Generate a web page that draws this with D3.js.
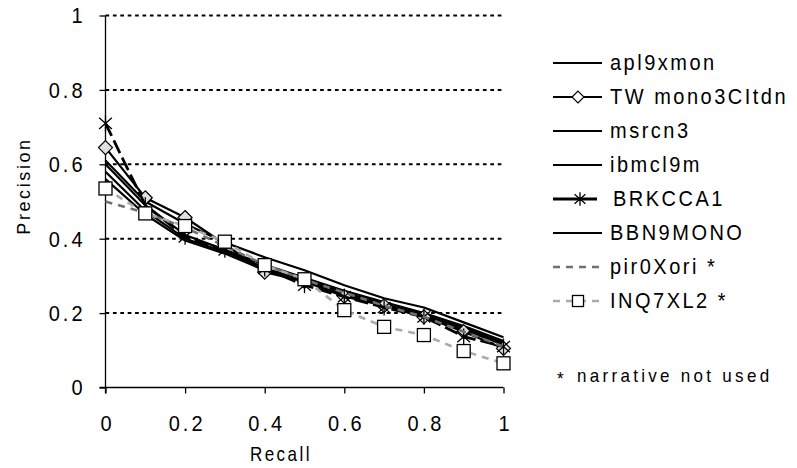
<!DOCTYPE html>
<html>
<head>
<meta charset="utf-8">
<script src="https://cdn.jsdelivr.net/npm/d3@7"></script>
<style>
  html, body { margin: 0; padding: 0; background: #fff; }
  svg { display: block; font-family: "Liberation Sans", Arial, sans-serif; }
</style>
</head>
<body>
<svg id="chart" width="797" height="468"></svg>
<script>
// Interpolated precision at 11 standard recall levels
const recall = [0, 0.1, 0.2, 0.3, 0.4, 0.5, 0.6, 0.7, 0.8, 0.9, 1.0];

const apl9xmon     = [0.61, 0.50, 0.44, 0.39, 0.35, 0.315, 0.275, 0.24, 0.215, 0.175, 0.135];
const TWmono3CItdn = [0.645, 0.51, 0.457, 0.385, 0.31, 0.285, 0.245, 0.22, 0.19, 0.15, 0.105];
const msrcn3       = [0.60, 0.49, 0.41, 0.37, 0.33, 0.295, 0.26, 0.23, 0.20, 0.165, 0.125];
const ibmcl9m      = [0.58, 0.475, 0.40, 0.365, 0.32, 0.29, 0.255, 0.225, 0.195, 0.16, 0.12];
const BRKCCA1      = [0.71, 0.49, 0.405, 0.37, 0.32, 0.275, 0.244, 0.215, 0.19, 0.137, 0.11];
const BBN9MONO     = [0.56, 0.465, 0.395, 0.36, 0.315, 0.285, 0.25, 0.22, 0.19, 0.155, 0.115];
const pir0Xori     = [0.50, 0.47, 0.43, 0.38, 0.33, 0.29, 0.255, 0.22, 0.19, 0.15, 0.11];
const INQ7XL2      = [0.535, 0.468, 0.434, 0.392, 0.329, 0.291, 0.208, 0.163, 0.141, 0.098, 0.065];

const seriesNames = ["apl9xmon", "TW mono3CItdn", "msrcn3", "ibmcl9m", "BRKCCA1", "BBN9MONO", "pir0Xori *", "INQ7XL2 *"];
const xTicks = [0, 0.2, 0.4, 0.6, 0.8, 1];
const yTicks = [0, 0.2, 0.4, 0.6, 0.8, 1];
const gridValues = [0.2, 0.4, 0.6, 0.8, 1];
const footnote = ["*", "narrative not used"];

// visual style per series
const styles = [
  { values: apl9xmon,     color: "#000", width: 2.2, dash: null,   marker: null },
  { values: TWmono3CItdn, color: "#000", width: 2.2, dash: null,   marker: "diamond" },
  { values: msrcn3,       color: "#000", width: 2.2, dash: null,   marker: null },
  { values: ibmcl9m,      color: "#000", width: 2.2, dash: null,   marker: null },
  { values: BRKCCA1,      color: "#000", width: 2.8, dash: "14,5", marker: "asterisk" },
  { values: BBN9MONO,     color: "#000", width: 2.2, dash: null,   marker: null },
  { values: pir0Xori,     color: "#707070", width: 2.6, dash: "7,6", marker: null },
  { values: INQ7XL2,      color: "#ababab", width: 2.6, dash: "7,6", marker: "square" }
];
const series = seriesNames.map((name, i) => Object.assign({ name }, styles[i]));

const svg = d3.select("#chart");
const x = d3.scaleLinear().domain([0, 1]).range([105.5, 503.5]);
const y = d3.scaleLinear().domain([0, 1]).range([387.5, 15.5]);
const fmt = d3.format("~g");
const TALL = 1.14; // glyphs are drawn slightly taller than wide

// text placed at (tx, ty) and stretched vertically
function tallText(parent, tx, ty, str, size, spacing, k) {
  return parent.append("text")
    .attr("transform", `translate(${tx},${ty}) scale(1,${k || TALL})`)
    .attr("dominant-baseline", "central")
    .style("font-size", size + "px").style("letter-spacing", spacing + "px")
    .text(str);
}

// dotted horizontal gridlines
svg.append("g").selectAll("line").data(gridValues).join("line")
  .attr("x1", x(0)).attr("x2", x(1))
  .attr("y1", d => y(d)).attr("y2", d => y(d))
  .attr("stroke", "#000").attr("stroke-width", 2)
  .attr("stroke-dasharray", "3.7,3.7");

// axes
const xAxis = svg.append("g").attr("transform", `translate(0,${y(0)})`)
  .call(d3.axisBottom(x).tickValues(xTicks).tickSize(6).tickPadding(0).tickFormat(fmt));
const yAxis = svg.append("g").attr("transform", `translate(${x(0)},0)`)
  .call(d3.axisLeft(y).tickValues(yTicks).tickSize(6).tickPadding(0).tickFormat(fmt));
[xAxis, yAxis].forEach(g => {
  g.select(".domain").attr("stroke", "#000").attr("stroke-width", 1.3);
  g.selectAll(".tick line").attr("stroke", "#000").attr("stroke-width", 1.3);
  g.selectAll(".tick text").attr("fill", "#000")
    .style("font-size", "20px").style("letter-spacing", "3px")
    .style("font-family", "'Liberation Sans', Arial, sans-serif")
    .attr("dy", null).attr("dominant-baseline", "central");
});
xAxis.selectAll(".tick text").attr("x", 0).attr("y", 0)
  .attr("transform", `translate(1.5,36) scale(1,${TALL})`);
yAxis.selectAll(".tick text").attr("x", 0).attr("y", 0)
  .attr("transform", `translate(-20,0) scale(1,${TALL})`);
xAxis.select(".domain").attr("d", `M${x(0) - 6},0H${x(1)}`);
yAxis.select(".domain").attr("d", `M0,${y(1)}V${y(0) + 6}`);

// axis titles
tallText(svg, 281, 455, "Recall", 17, 2.5).attr("text-anchor", "middle");
svg.append("text").attr("transform", "translate(24,186) rotate(-90)")
  .attr("text-anchor", "middle").attr("dominant-baseline", "central")
  .style("font-size", "18px").style("letter-spacing", "2.6px").text("Precision");

// marker shapes
function drawMarker(g, type, cx, cy, scale) {
  const s = scale || 1;
  if (type === "diamond") {
    const r = 7 * s;
    g.append("path").attr("d", `M${cx},${cy - r}L${cx + r},${cy}L${cx},${cy + r}L${cx - r},${cy}Z`)
      .attr("fill", s < 1 ? "#fff" : "#e0e0e0").attr("stroke", "#000").attr("stroke-width", 1.2);
  } else if (type === "square") {
    const h = 6.5 * s;
    g.append("rect").attr("x", cx - h).attr("y", cy - h).attr("width", 2 * h).attr("height", 2 * h)
      .attr("fill", "#fff").attr("stroke", "#000").attr("stroke-width", 1.3);
  } else if (type === "asterisk") {
    const r = 8 * s, dx = r * 0.8, dy = r * 0.7;
    g.append("path")
      .attr("d", `M${cx},${cy - r}V${cy + r}M${cx - dx},${cy - dy}L${cx + dx},${cy + dy}M${cx - dx},${cy + dy}L${cx + dx},${cy - dy}`)
      .attr("fill", "none").attr("stroke", "#000").attr("stroke-width", 1.3);
  }
}

const line = d3.line().x((d, i) => x(recall[i])).y(d => y(d));
const plot = svg.append("g");

// draw order: solid lines, gray dashed, then markers with squares on top
const order = [0, 2, 3, 5, 1, 4, 6, 7];
order.forEach(i => {
  const s = series[i];
  const g = plot.append("g");
  g.append("path").datum(s.values).attr("d", line)
    .attr("fill", "none").attr("stroke", s.color).attr("stroke-width", s.width)
    .attr("stroke-dasharray", s.dash).attr("stroke-linejoin", "round");
  if (s.marker) s.values.forEach((v, j) => drawMarker(g, s.marker, x(recall[j]), y(v)));
});

// legend
const legend = svg.append("g");
const rowY = d3.range(series.length).map(i => 63 + i * 34);
series.forEach((s, i) => {
  const ly = rowY[i];
  const g = legend.append("g");
  const isAst = s.marker === "asterisk";
  g.append("line").attr("x1", 553).attr("x2", isAst ? 597 : 602).attr("y1", ly).attr("y2", ly)
    .attr("stroke", s.color).attr("stroke-width", s.width)
    .attr("stroke-dasharray", isAst ? null : s.dash);
  if (s.marker) drawMarker(g, s.marker, isAst ? 580 : 578, ly, 0.85);
  tallText(g, isAst ? 613 : 610, ly, s.name, 20, 2.5);
});

tallText(svg, 557, 379, footnote[0], 17, 0, 1.1);
tallText(svg, 577, 376, footnote[1], 17, 3.3, 1.1);
</script>
</body>
</html>
